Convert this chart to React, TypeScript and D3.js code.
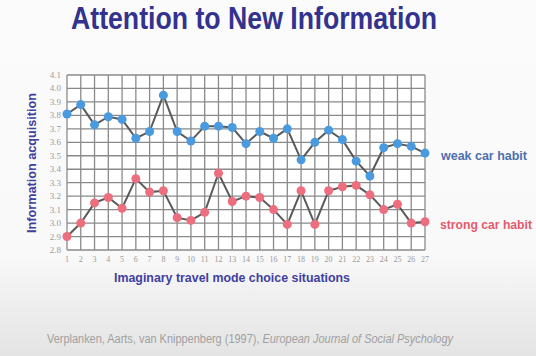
import React from "react";
import * as d3 from "d3";

const situations = d3.range(1, 28);
const weakHabit = [3.81, 3.88, 3.73, 3.79, 3.77, 3.63, 3.68, 3.95, 3.68, 3.61, 3.72, 3.72, 3.71, 3.59, 3.68, 3.63, 3.7, 3.47, 3.6, 3.69, 3.62, 3.46, 3.35, 3.56, 3.59, 3.57, 3.52];
const strongHabit = [2.9, 3.0, 3.15, 3.19, 3.11, 3.33, 3.23, 3.24, 3.04, 3.02, 3.08, 3.37, 3.16, 3.2, 3.19, 3.1, 2.99, 3.24, 2.99, 3.24, 3.27, 3.28, 3.21, 3.1, 3.14, 3.0, 3.01];
const yTicks = [2.8, 2.9, 3.0, 3.1, 3.2, 3.3, 3.4, 3.5, 3.6, 3.7, 3.8, 3.9, 4.0, 4.1];

export default function App() {
  const W = 536, H = 356;
  const x = d3.scaleLinear().domain([1, 27]).range([67, 425]);
  const y = d3.scaleLinear().domain([2.8, 4.1]).range([250, 75]);
  const line = d3.line<number>().x((_, i) => x(situations[i])).y((d) => y(d));
  const grid = "#8a8a8a";
  return (
    <svg width={W} height={H} style={{ position: "absolute", left: 0, top: 0 }} fontFamily="Liberation Sans, Arial, sans-serif">
      <defs>
        <linearGradient id="bg" x1="0" y1="0" x2="0" y2="1">
          <stop offset="0" stopColor="#fbfbfb" />
          <stop offset="0.72" stopColor="#f9f9f9" />
          <stop offset="0.85" stopColor="#eeeeee" />
          <stop offset="1" stopColor="#e4e4e4" />
        </linearGradient>
      </defs>
      <rect width={W} height={H} fill="url(#bg)" />
      <text x={254} y={29} textAnchor="middle" fontSize={31} fontWeight="bold" fill="#33338f" textLength={366} lengthAdjust="spacingAndGlyphs">
        Attention to New Information
      </text>
      <rect x={67} y={75} width={358} height={175} fill="#ffffff" />
      {yTicks.map((t) => (
        <line key={"h" + t} x1={67} x2={425} y1={y(t)} y2={y(t)} stroke={grid} strokeWidth={1.3} />
      ))}
      {situations.map((s) => (
        <line key={"v" + s} x1={x(s)} x2={x(s)} y1={75} y2={250} stroke={grid} strokeWidth={1.3} />
      ))}
      {yTicks.map((t) => (
        <text key={"yl" + t} x={61} y={y(t) + 3} textAnchor="end" fontSize={9} fill="#9a9a9a" fontFamily="Liberation Serif, serif">
          {t.toFixed(1)}
        </text>
      ))}
      {situations.map((s) => (
        <text key={"xl" + s} x={x(s)} y={262} textAnchor="middle" fontSize={8} fill="#9a9a9a" fontFamily="Liberation Serif, serif">
          {s}
        </text>
      ))}
      <path d={line(weakHabit) || ""} fill="none" stroke="#5a5a5a" strokeWidth={2} />
      <path d={line(strongHabit) || ""} fill="none" stroke="#5a5a5a" strokeWidth={2} />
      {weakHabit.map((v, i) => (
        <circle key={"w" + i} cx={x(situations[i])} cy={y(v)} r={4.5} fill="#4a9ae0" />
      ))}
      {strongHabit.map((v, i) => (
        <circle key={"s" + i} cx={x(situations[i])} cy={y(v)} r={4.5} fill="#ec6e7f" />
      ))}
      <text x={441} y={160} fontSize={12} fontWeight="bold" fill="#4f6fae" textLength={86} lengthAdjust="spacingAndGlyphs">
        weak car habit
      </text>
      <text x={440} y={229} fontSize={12} fontWeight="bold" fill="#e35b6c" textLength={92} lengthAdjust="spacingAndGlyphs">
        strong car habit
      </text>
      <text transform="translate(36,163) rotate(-90)" textAnchor="middle" fontSize={12} fontWeight="bold" fill="#4040a0" textLength={140} lengthAdjust="spacingAndGlyphs">
        Information acquisition
      </text>
      <text x={232} y={282} textAnchor="middle" fontSize={13} fontWeight="bold" fill="#4040a0" textLength={236} lengthAdjust="spacingAndGlyphs">
        Imaginary travel mode choice situations
      </text>
      <text x={47} y={343} fontSize={12} fill="#a0a0a0" textLength={406} lengthAdjust="spacingAndGlyphs">
        Verplanken, Aarts, van Knippenberg (1997), <tspan fontStyle="italic">European Journal of Social Psychology</tspan>
      </text>
    </svg>
  );
}
